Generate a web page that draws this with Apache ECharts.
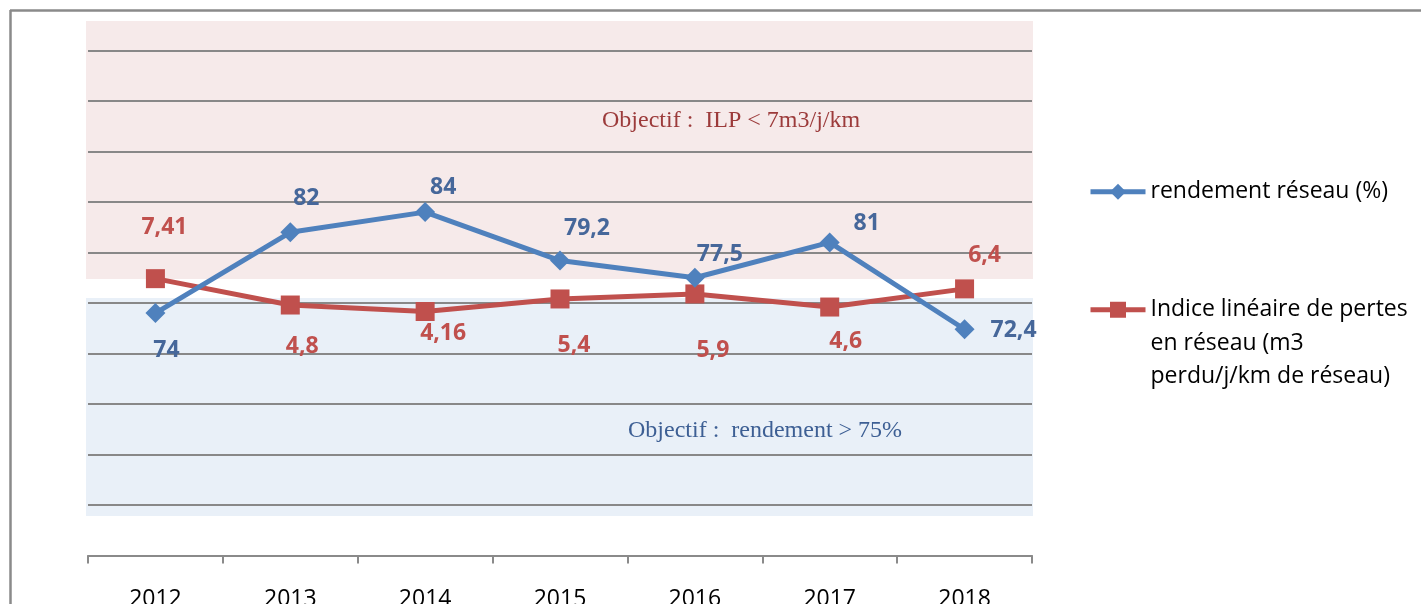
<!DOCTYPE html>
<html>
<head>
<meta charset="utf-8">
<script src="https://cdn.jsdelivr.net/npm/echarts@6/dist/echarts.min.js"></script>
<style>
  html, body { margin: 0; padding: 0; background: #fff; }
  #chart { width: 1421px; height: 604px; }
</style>
</head>
<body>
<div id="chart"></div>
<script>
  // données
  var annees = ['2012', '2013', '2014', '2015', '2016', '2017', '2018'];
  var rendement = [74, 82, 84, 79.2, 77.5, 81, 72.4];
  var ilp = [7.41, 4.8, 4.16, 5.4, 5.9, 4.6, 6.4];
  var nomRendement = 'rendement réseau (%)';
  var nomIlp = 'Indice linéaire de pertes en réseau (m3 perdu/j/km de réseau)';

  // décalage des étiquettes (px)
  var decalBleu = [[11, 37], [16, -34], [18, -25], [27, -32], [25, -23], [37, -19], [49, 1]];
  var decalRouge = [[9, -51], [12, 41], [18, 22], [14, 46], [18, 57], [16, 34], [20, -33]];

  var police = 'Open Sans';
  var virgule = function (p) { return String(p.value).replace('.', ','); };

  var chart = echarts.init(document.getElementById('chart'));
  var option = {
    backgroundColor: '#fff',
    animation: false,
    textStyle: { fontFamily: police },
    grid: { left: 88, right: 389, top: 50.5, bottom: 48.5, outerBoundsMode: 'none' },
    legend: [
      {
        data: [nomRendement],
        orient: 'vertical',
        left: 1088,
        top: 175,
        padding: 0,
        itemWidth: 55,
        itemHeight: 20,
        lineStyle: { width: 5 },
        textStyle: { fontFamily: police, fontSize: 23, color: '#000', lineHeight: 33.5 }
      },
      {
        data: [nomIlp],
        orient: 'vertical',
        left: 1088,
        top: 226,
        padding: 0,
        itemWidth: 55,
        itemHeight: 20,
        lineStyle: { width: 5 },
        // deux lignes vides au-dessus pour aligner la 1re ligne sur le symbole
        formatter: function () { return ' \n \nIndice linéaire de pertes\nen réseau (m3\nperdu/j/km de réseau)'; },
        textStyle: { fontFamily: police, fontSize: 23, color: '#000', lineHeight: 33.5 }
      }
    ],
    xAxis: {
      type: 'category',
      data: annees,
      boundaryGap: true,
      axisLine: { onZero: false, lineStyle: { color: '#8a8a8a', width: 2 } },
      axisTick: { show: true, length: 8, lineStyle: { color: '#8a8a8a', width: 2 } },
      axisLabel: { fontFamily: police, fontSize: 23, color: '#000', margin: 32 }
    },
    yAxis: [
      {
        type: 'value',
        min: 50,
        max: 100,
        interval: 5,
        axisLine: { show: false },
        axisTick: { show: false },
        axisLabel: { show: false },
        splitLine: { lineStyle: { color: '#888', width: 2 } }
      },
      {
        type: 'value',
        min: -20,
        max: 30,
        interval: 5,
        axisLine: { show: false },
        axisTick: { show: false },
        axisLabel: { show: false },
        splitLine: { show: false }
      }
    ],
    graphic: [
      // cadre
      { type: 'line', z: -20, shape: { x1: 10, y1: 10.5, x2: 1421, y2: 10.5 }, style: { stroke: '#8a8a8a', lineWidth: 2.5 } },
      { type: 'line', z: -20, shape: { x1: 10.5, y1: 10, x2: 10.5, y2: 604 }, style: { stroke: '#8a8a8a', lineWidth: 2.5 } },
      // zones objectif
      { type: 'rect', z: -10, shape: { x: 86, y: 21, width: 947, height: 258 }, style: { fill: '#f6eaea' } },
      { type: 'rect', z: -10, shape: { x: 86, y: 298, width: 947, height: 218 }, style: { fill: '#e9f0f8' } },
      {
        type: 'text', z: 5, left: 602, top: 109,
        style: { text: 'Objectif :  ILP < 7m3/j/km', fill: '#9c3b3b', font: '24px "Liberation Serif"' }
      },
      {
        type: 'text', z: 5, left: 628, top: 419,
        style: { text: 'Objectif :  rendement > 75%', fill: '#3d5f94', font: '24px "Liberation Serif"' }
      }
    ],
    series: [
      {
        name: nomRendement,
        type: 'line',
        yAxisIndex: 0,
        symbol: 'diamond',
        symbolSize: 20,
        z: 3,
        lineStyle: { color: '#4f81bd', width: 5 },
        itemStyle: { color: '#4f81bd' },
        label: {
          show: true,
          position: 'inside',
          fontFamily: police,
          fontWeight: 'bold',
          fontSize: 23,
          color: '#46679a',
          formatter: virgule
        },
        data: rendement.map(function (v, i) {
          return { value: v, label: { offset: decalBleu[i] } };
        })
      },
      {
        name: nomIlp,
        type: 'line',
        yAxisIndex: 1,
        symbol: 'rect',
        symbolSize: 19,
        z: 2,
        lineStyle: { color: '#c0504d', width: 5 },
        itemStyle: { color: '#c0504d' },
        label: {
          show: true,
          position: 'inside',
          fontFamily: police,
          fontWeight: 'bold',
          fontSize: 23,
          color: '#c0504d',
          formatter: virgule
        },
        data: ilp.map(function (v, i) {
          return { value: v, label: { offset: decalRouge[i] } };
        })
      }
    ]
  };
  chart.setOption(option);
</script>
</body>
</html>
